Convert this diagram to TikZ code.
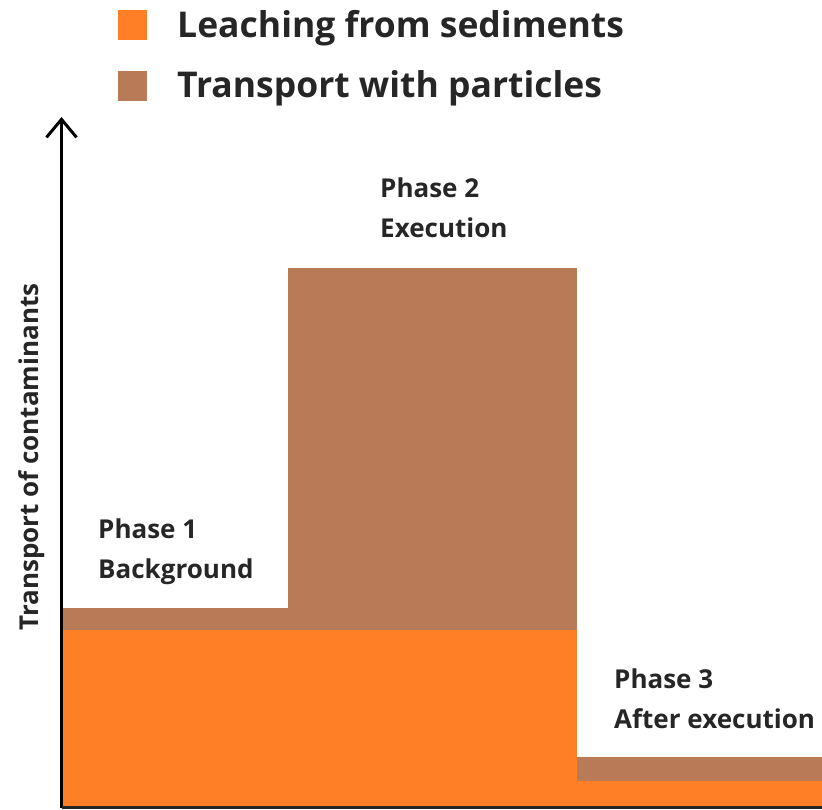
\documentclass[tikz,border=0pt]{standalone}
\usepackage{fontspec}
\setmainfont{Open Sans}
\usetikzlibrary{arrows.meta}
\definecolor{leach}{RGB}{255,127,39}
\definecolor{partc}{RGB}{185,122,87}
\definecolor{txt}{RGB}{38,38,38}
\begin{document}
\begin{tikzpicture}[x=1pt,y=-1pt,
  legtext/.style={anchor=base west,inner sep=0pt,font=\fontsize{35.5}{44}\selectfont\bfseries,text=txt},
  phase/.style={anchor=north west,inner sep=0pt,align=left,font=\fontsize{26}{40}\selectfont\bfseries,text=txt},
  swatch/.style={minimum width=29pt,minimum height=30pt,inner sep=0pt,anchor=north west}]
\useasboundingbox (0,0) rectangle (822,809);
% bars
\fill[partc] (62,608) rectangle (288,630);
\fill[partc] (288,268) rectangle (577,630);
\fill[partc] (577,757) rectangle (822,781);
\fill[leach] (62,630) rectangle (577,807);
\fill[leach] (577,781) rectangle (822,807);
% axes
\coordinate (o) at (61.5,807.5);
\coordinate (ytop) at (61.5,117);
\coordinate (xend) at (822,807.5);
\draw[line width=3pt,black,-{Straight Barb[length=18pt,width=30pt,line width=3pt]}] (o) -- (ytop);
\draw[line width=3pt,black!85] (o) -- (xend);
% legend
\node[swatch,fill=leach] (s1) at (118,10) {};
\node[swatch,fill=partc] (s2) at (118,71) {};
\node[legtext] (l1) at (177,37) {Leaching from sediments};
\node[legtext] (l2) at (177,97) {Transport with particles};
% phase labels
\node[phase] (p1) at (98,519) {Phase 1\\Background};
\node[phase] (p2) at (380,178) {Phase 2\\Execution};
\node[phase] (p3) at (614,669) {Phase 3\\After execution};
% y label
\node[rotate=90,anchor=center,inner sep=0pt,font=\fontsize{26}{32}\selectfont\bfseries,text=txt] (yl) at (32,457) {Transport of contaminants};
\end{tikzpicture}
\end{document}
